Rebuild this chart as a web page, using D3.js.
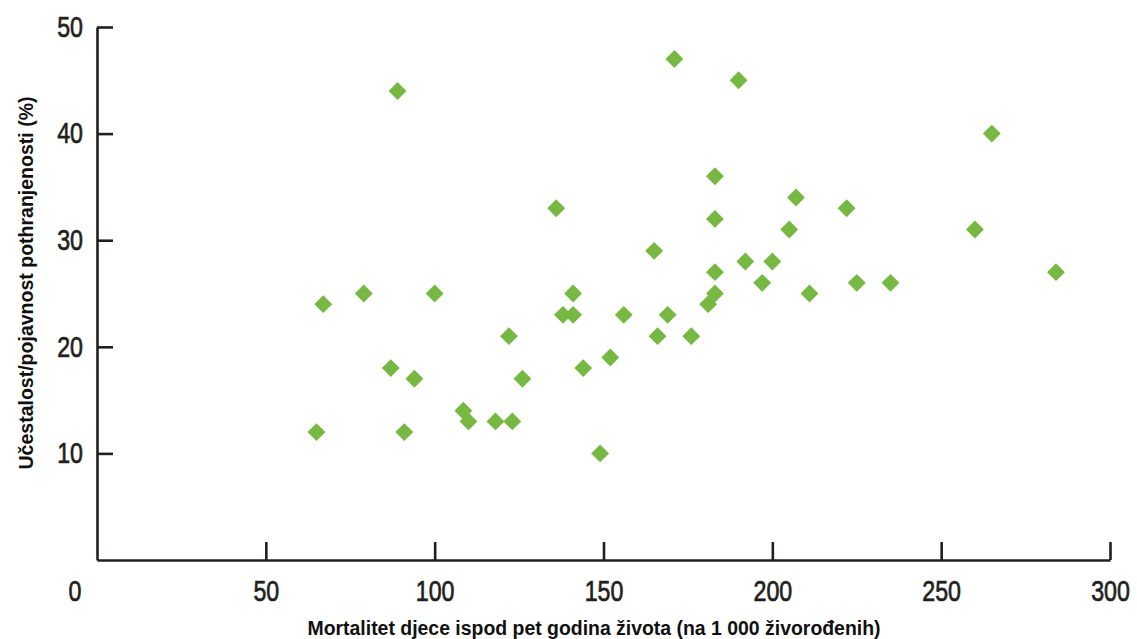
<!DOCTYPE html>
<html>
<head>
<meta charset="utf-8">
<script src="https://cdn.jsdelivr.net/npm/d3@7"></script>
<style>
  body { margin: 0; background: #fff; }
</style>
</head>
<body>
<div id="chart"></div>
<script>
// scatter: under-five mortality vs. prevalence of underweight

// mortality per 1000 live births
const mortality = [171, 190, 89, 265, 183, 207, 136, 222, 183, 205, 260, 165,
  192, 200, 183, 284, 197, 225, 235, 79, 100, 141, 183, 211, 67, 181,
  138, 141, 156, 169, 122, 166, 176, 152, 87, 144, 94, 126, 108.5, 110,
  118, 123, 65, 91, 149];
// underweight prevalence (%)
const underweight = [47, 45, 44, 40, 36, 34, 33, 33, 32, 31, 31, 29,
  28, 28, 27, 27, 26, 26, 26, 25, 25, 25, 25, 25, 24, 24,
  23, 23, 23, 23, 21, 21, 21, 19, 18, 18, 17, 17, 14, 13,
  13, 13, 12, 12, 10];

const xTicks = [50, 100, 150, 200, 250, 300];
const yTicks = [10, 20, 30, 40, 50];

const xTitle = "Mortalitet djece ispod pet godina života (na 1 000 živorođenih)";
const yTitle = "Učestalost/pojavnost pothranjenosti (%)";

const width = 1137;
const height = 639;
const margin = {left: 97, right: 27, top: 27, bottom: 79};

const tickFont = "'Liberation Sans', Arial, sans-serif";
const titleFont = "'Liberation Sans', Arial, sans-serif";
const axisColor = "#231f20";
const dotColor = "#76b841";
const squeeze = 0.8;   // tick digits are condensed in the original

const svg = d3.select("#chart").append("svg")
    .attr("width", width)
    .attr("height", height);

const x = d3.scaleLinear()
    .domain([0, 300])
    .range([margin.left, width - margin.right]);

const y = d3.scaleLinear()
    .domain([0, 50])
    .range([height - margin.bottom, margin.top]);

// x axis, ticks pointing up
svg.append("g")
    .attr("class", "xaxis")
    .attr("transform", `translate(0,${y(0)})`)
    .call(d3.axisBottom(x).tickValues(xTicks).tickSize(-18).tickPadding(20).tickSizeOuter(0));

// lone "0" sits left of the corner
svg.append("g")
    .attr("class", "zero")
    .attr("transform", `translate(${x(0) - 22},${y(0)})`)
  .append("text")
    .attr("y", 20)
    .attr("dy", "0.71em")
    .attr("text-anchor", "middle")
    .text("0");

// y axis, ticks pointing in
svg.append("g")
    .attr("class", "yaxis")
    .attr("transform", `translate(${x(0)},0)`)
    .call(d3.axisLeft(y).tickValues(yTicks).tickSize(-16).tickPadding(14).tickSizeOuter(0));

svg.selectAll(".domain, .tick line")
    .attr("stroke", axisColor)
    .attr("stroke-width", 2.6);

svg.selectAll(".xaxis text, .yaxis text, .zero text")
    .attr("fill", axisColor)
    .attr("stroke", axisColor)
    .attr("stroke-width", 0.7)
    .style("font-family", tickFont)
    .style("font-size", "29px")
    .attr("transform", `scale(${squeeze},1)`);
// keep the y labels' right edge where it was after squeezing
svg.selectAll(".yaxis text").attr("x", -14 / squeeze);

// points
const pts = d3.zip(mortality, underweight);
const diamond = d3.symbol(d3.symbolSquare, 160);

svg.append("g")
  .selectAll("path")
  .data(pts)
  .join("path")
    .attr("d", diamond)
    .attr("transform", d => `translate(${x(d[0])},${y(d[1])}) rotate(45)`)
    .attr("fill", dotColor);

// titles
svg.append("text")
    .attr("x", 594)
    .attr("y", 635)
    .attr("text-anchor", "middle")
    .attr("textLength", 573)
    .attr("lengthAdjust", "spacingAndGlyphs")
    .style("font-family", titleFont)
    .style("font-weight", "bold")
    .style("font-size", "20px")
    .attr("fill", "#111")
    .text(xTitle);

svg.append("text")
    .attr("transform", `translate(33,283) rotate(-90)`)
    .attr("text-anchor", "middle")
    .attr("textLength", 373)
    .attr("lengthAdjust", "spacingAndGlyphs")
    .style("font-family", titleFont)
    .style("font-weight", "bold")
    .style("font-size", "20px")
    .attr("fill", "#111")
    .text(yTitle);
</script>
</body>
</html>
